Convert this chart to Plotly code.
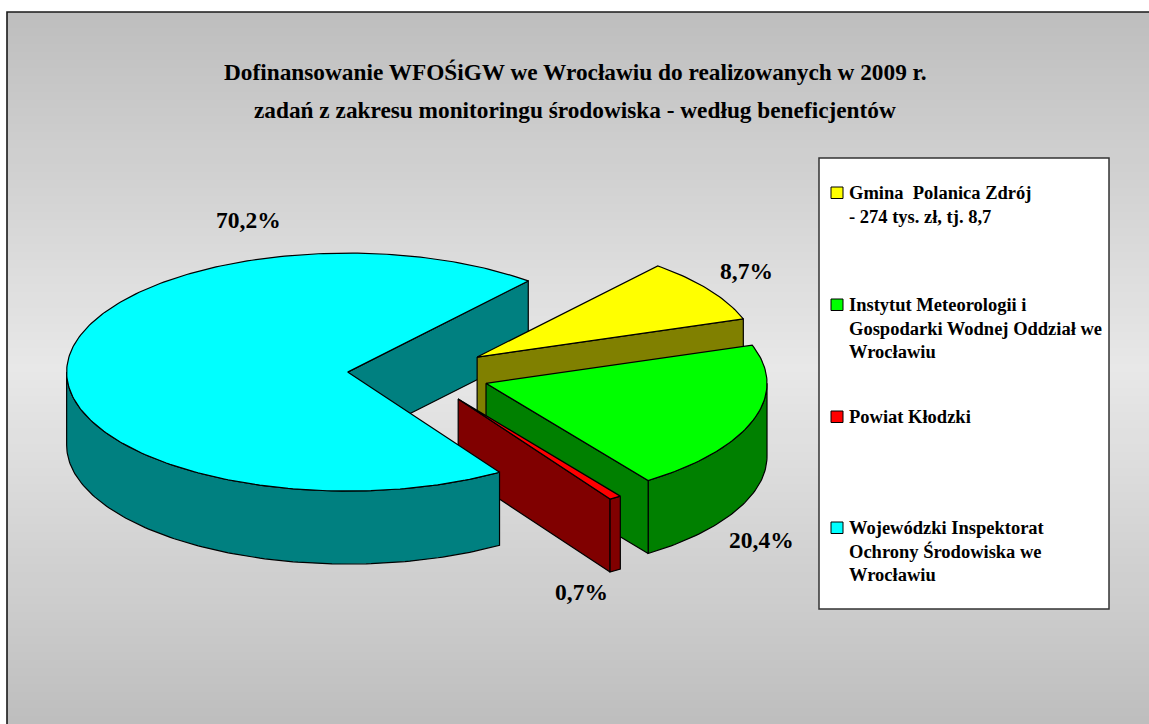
import numpy as np
import plotly.graph_objects as go

W, H = 1149, 724

# ---- data ----
categories = ["Gmina Polanica Zdrój", "Instytut Meteorologii i Gospodarki Wodnej Oddział we Wrocławiu",
              "Powiat Kłodzki", "Wojewódzki Inspektorat Ochrony Środowiska we Wrocławiu"]
shares = [8.7, 20.4, 0.7, 70.2]
top_colors = ["#FFFF00", "#00FF00", "#FF0000", "#00FFFF"]
side_colors = ["#808000", "#008000", "#800000", "#008080"]
label_xy = [(746, 271), (761, 540), (581, 592), (248, 220)]
legend_lines = [
    ["Gmina  Polanica Zdrój", "- 274 tys. zł, tj. 8,7"],
    ["Instytut Meteorologii i", "Gospodarki Wodnej Oddział we", "Wrocławiu"],
    ["Powiat Kłodzki"],
    ["Wojewódzki Inspektorat", "Ochrony Środowiska we", "Wrocławiu"],
]
legend_first_y = [193, 305, 417, 528]
title_lines = ["Dofinansowanie WFOŚiGW we Wrocławiu do realizowanych w 2009 r.",
               "zadań z zakresu monitoringu środowiska - według beneficjentów"]

# ---- pie projection ----
CX, CY, RX, RY, DEPTH, EXPLODE = 418.5, 374.0, 281.0, 119.0, 73.0, 71.0
START = 50.0
FONT = "Liberation Serif"


def project(cx, cy, deg):
    t = np.radians(deg)
    return cx + RX * np.cos(t), cy - RY * np.sin(t)


def arc(cx, cy, a0, a1):
    n = max(2, int(abs(a1 - a0)) + 2)
    return project(cx, cy, np.linspace(a0, a1, n))


fig = go.Figure()


def poly(xs, ys, color):
    xs, ys = list(xs), list(ys)
    fig.add_trace(go.Scatter(x=xs + xs[:1], y=ys + ys[:1], mode="lines", fill="toself",
                             fillcolor=color, line=dict(color="black", width=1.2),
                             hoverinfo="skip", showlegend=False))


slices = []
a = START
for share, top, side in zip(shares, top_colors, side_colors):
    sweep = share / 100 * 360
    a0, a1 = a, a - sweep
    mid = (a0 + a1) / 2
    cx = CX + EXPLODE * np.cos(np.radians(mid))
    cy = CY - EXPLODE * RY / RX * np.sin(np.radians(mid))
    slices.append(dict(a0=a0, a1=a1, cx=cx, cy=cy, top=top, side=side))
    a = a1


def cut_wall(s, deg):
    x, y = project(s["cx"], s["cy"], deg)
    poly([s["cx"], x, x, s["cx"]], [s["cy"], y, y + DEPTH, s["cy"] + DEPTH], s["side"])


def rim_wall(s, a0, a1):
    x, y = arc(s["cx"], s["cy"], a0, a1)
    poly(np.r_[x, x[::-1]], np.r_[y, y[::-1] + DEPTH], s["side"])


def top_face(s):
    x, y = arc(s["cx"], s["cy"], s["a0"], s["a1"])
    poly(np.r_[s["cx"], x], np.r_[s["cy"], y], s["top"])


yellow, green, red, cyan = slices
# back to front
cut_wall(cyan, cyan["a1"])
cut_wall(yellow, yellow["a1"])
top_face(yellow)
rim_wall(green, 0, green["a1"])
cut_wall(green, green["a1"])
top_face(green)
cut_wall(red, red["a1"])
rim_wall(red, red["a0"], red["a1"])
top_face(red)
rim_wall(cyan, -180, cyan["a0"])
top_face(cyan)

# ---- percentage labels ----
annotations = []
for share, (lx, ly) in zip(shares, label_xy):
    annotations.append(dict(x=lx, y=ly, xref="x", yref="y", showarrow=False,
                            text=f"<b>{share:.1f}%</b>".replace(".", ","),
                            font=dict(family=FONT, size=23.5, color="black")))

for i, line in enumerate(title_lines):
    annotations.append(dict(x=575, y=72 + 37.5 * i, xref="x", yref="y", showarrow=False,
                            text=f"<b>{line}</b>", font=dict(family=FONT, size=23.3, color="black")))

for lines, y0 in zip(legend_lines, legend_first_y):
    for j, line in enumerate(lines):
        annotations.append(dict(x=846.5, y=y0 + 23.5 * j, xref="x", yref="y", showarrow=False,
                                xanchor="left", text=f"<b>{line}</b>",
                                font=dict(family=FONT, size=18.5, color="black")))

# ---- background, frame, legend box ----
shapes = []
FRAME_L, FRAME_T, FRAME_R, FRAME_B = 7, 12, 1160, 724
MID = (FRAME_T + FRAME_B) / 2
edges = np.arange(FRAME_T, FRAME_B + 8, 8)
for y0 in edges[:-1]:
    f = 1 - abs(y0 + 4 - MID) / (MID - FRAME_T)
    g = int(round(0xBE + f * (0xE8 - 0xBE)))
    shapes.append(dict(type="rect", layer="below", xref="x", yref="y", x0=FRAME_L, x1=FRAME_R,
                       y0=y0, y1=y0 + 8, line_width=0, fillcolor=f"rgb({g},{g},{g})"))
shapes.append(dict(type="rect", layer="below", xref="x", yref="y", x0=FRAME_L, x1=FRAME_R,
                   y0=FRAME_T, y1=FRAME_B + 8, line=dict(color="#1a1a1a", width=1.6)))
shapes.append(dict(type="rect", layer="below", xref="x", yref="y", x0=819, x1=1109, y0=158, y1=609,
                   fillcolor="white", line=dict(color="#333333", width=1.5)))
for color, y0 in zip(top_colors, legend_first_y):
    shapes.append(dict(type="rect", layer="above", xref="x", yref="y", x0=831, x1=843,
                       y0=y0 - 6, y1=y0 + 5.5, fillcolor=color, line=dict(color="black", width=1)))

fig.update_layout(
    width=W, height=H, autosize=False,
    margin=dict(l=0, r=0, t=0, b=0),
    paper_bgcolor="white", plot_bgcolor="rgba(0,0,0,0)",
    xaxis=dict(range=[0, W], visible=False, fixedrange=True),
    yaxis=dict(range=[H, 0], visible=False, fixedrange=True),
    shapes=shapes, annotations=annotations, showlegend=False,
)
fig.write_html("out.html", config=dict(displayModeBar=False),
               default_width=W, default_height=H,
               post_script="document.body.style.margin='0';")
